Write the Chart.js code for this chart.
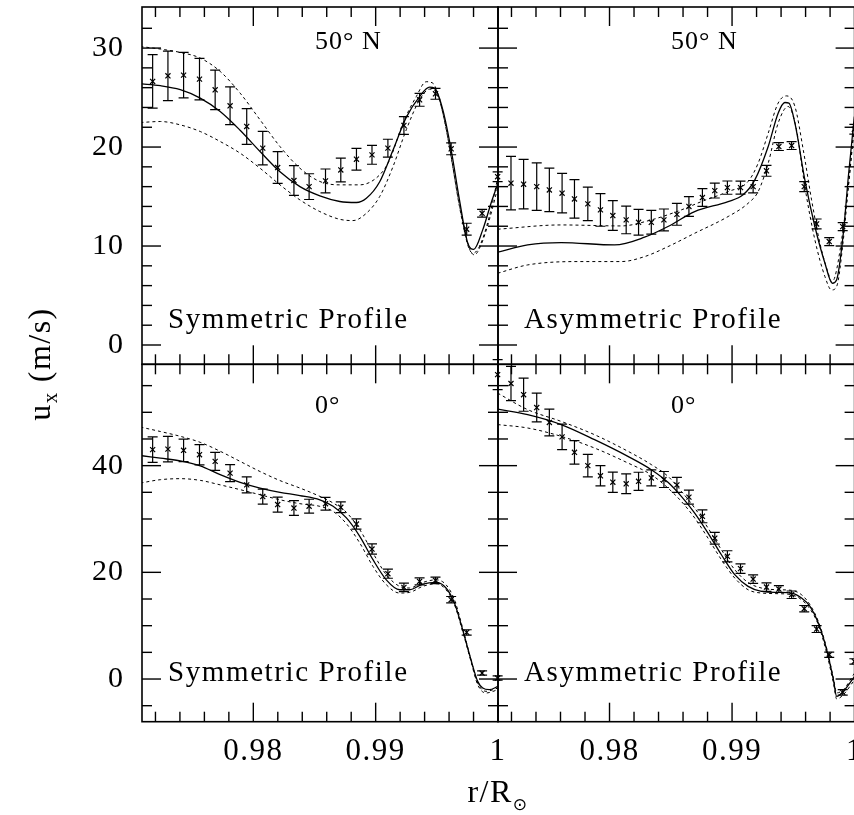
<!DOCTYPE html>
<html><head><meta charset="utf-8">
<script src="https://cdn.jsdelivr.net/npm/chart.js@4.4.1/dist/chart.umd.min.js"></script>
<style>
html,body{margin:0;padding:0;background:#fff;overflow:hidden;}
#wrap{position:relative;width:854px;height:815px;overflow:hidden;background:#fff;}
#wrap canvas{position:absolute;left:0;top:0;}
</style></head><body>
<div id="wrap">
<canvas id="cTL" width="860" height="815"></canvas>
<canvas id="cTR" width="860" height="815"></canvas>
<canvas id="cBL" width="860" height="815"></canvas>
<canvas id="cBR" width="860" height="815"></canvas>
</div>
<script>
// ---------- axis ranges & ticks ----------
const xRange = [0.9709, 1.0];
const topRange = [-1.95, 34.15];
const botRange = [-8, 59];
const xMajorTicks = [0.98, 0.99, 1.0];
const xTickLabels = ['0.98', '0.99', '1'];
const xMinorTicks = [0.972, 0.974, 0.976, 0.978, 0.982, 0.984, 0.986, 0.988, 0.992, 0.994, 0.996, 0.998];
const topMajorTicks = [0, 10, 20, 30];
const topTickLabels = ['0', '10', '20', '30'];
const topMinorTicks = [2, 4, 6, 8, 12, 14, 16, 18, 22, 24, 26, 28, 32];
const botMajorTicks = [0, 20, 40];
const botTickLabels = ['0', '20', '40'];
const botMinorTicks = [-5, 5, 10, 15, 25, 30, 35, 45, 50, 55];

// ---------- measurement radii ----------
const symR = [0.97177, 0.97302, 0.97430, 0.97560, 0.97688, 0.97810, 0.97946, 0.98077, 0.98199, 0.98332, 0.98456, 0.98590, 0.98715, 0.98843, 0.98970, 0.99100, 0.99231, 0.99359, 0.99489, 0.99617, 0.99744, 0.99870, 0.99997];
const asymR = [0.97087, 0.97196, 0.97299, 0.97406, 0.97509, 0.97613, 0.97714, 0.97823, 0.97926, 0.98027, 0.98136, 0.98237, 0.98341, 0.98444, 0.98550, 0.98648, 0.98758, 0.98859, 0.98962, 0.99069, 0.99172, 0.99281, 0.99382, 0.99486, 0.99589, 0.99690, 0.99793, 0.99903, 0.99998];

// ---------- 50 N, symmetric ----------
const tlU = [26.63, 27.2, 27.27, 26.86, 25.78, 24.17, 22.08, 19.89, 17.93, 16.62, 16.0, 16.58, 17.69, 18.77, 19.21, 19.89, 22.18, 24.77, 25.38, 19.82, 11.7, 13.31, 17.0];
const tlErr = [2.7, 2.5, 2.3, 2.1, 2.0, 1.9, 1.8, 1.7, 1.6, 1.5, 1.3, 1.2, 1.2, 1.1, 0.95, 0.9, 0.9, 0.65, 0.55, 0.6, 0.6, 0.4, 0.5];
const tlSolidR = [0.97077, 0.97240, 0.97403, 0.97566, 0.97729, 0.97892, 0.98055, 0.98218, 0.98381, 0.98544, 0.98707, 0.98843, 0.98924, 0.99033, 0.99142, 0.99250, 0.99359, 0.99441, 0.99481, 0.99549, 0.99617, 0.99685, 0.99753, 0.99802, 0.99875, 0.99943, 1.0];
const tlSolidU = [26.39, 26.2, 25.8, 24.95, 23.6, 21.7, 19.55, 17.5, 16.0, 15.07, 14.5, 14.4, 14.83, 16.5, 19.7, 23.0, 25.1, 26.05, 25.95, 23.76, 19.72, 14.66, 10.28, 9.67, 11.63, 14.32, 16.35];
const tlUpperR = [0.97077, 0.97240, 0.97403, 0.97566, 0.97729, 0.97892, 0.98055, 0.98218, 0.98381, 0.98544, 0.98707, 0.98870, 0.99033, 0.99114, 0.99223, 0.99332, 0.99413, 0.99468, 0.99536, 0.99603, 0.99685, 0.99753, 0.99794, 0.99848, 0.99929, 1.0];
const tlUpperU = [30.16, 29.9, 29.56, 28.99, 27.64, 25.45, 22.75, 20.05, 17.86, 16.52, 16.18, 16.18, 17.19, 18.7, 22.41, 25.1, 26.6, 26.45, 24.1, 20.05, 14.0, 10.1, 9.27, 9.94, 12.98, 17.02];
const tlLowerR = [0.97077, 0.97240, 0.97403, 0.97566, 0.97729, 0.97892, 0.98055, 0.98218, 0.98381, 0.98544, 0.98707, 0.98815, 0.98924, 0.99033, 0.99142, 0.99250, 0.99359, 0.99441, 0.99494, 0.99562, 0.99630, 0.99698, 0.99766, 0.99807, 0.99861, 0.99929, 1.0];
const tlLowerU = [22.48, 22.58, 22.24, 21.57, 20.56, 19.38, 17.86, 16.18, 14.66, 13.48, 12.7, 12.57, 13.31, 15.0, 18.03, 21.74, 24.77, 25.85, 25.61, 22.75, 18.03, 13.31, 9.77, 9.1, 10.11, 12.64, 16.01];

// ---------- 50 N, asymmetric ----------
const trR = asymR.slice(1);
const trU = [16.35, 16.25, 16.0, 15.67, 15.34, 14.76, 14.26, 13.65, 13.08, 12.64, 12.4, 12.4, 12.64, 13.2, 14.0, 14.9, 15.6, 15.9, 15.9, 16.0, 17.6, 20.05, 20.15, 16.0, 12.23, 10.45, 11.96, 21.8];
const trErr = [2.7, 2.5, 2.4, 2.2, 2.0, 1.95, 1.7, 1.65, 1.5, 1.4, 1.3, 1.2, 1.1, 1.1, 1.0, 0.9, 0.75, 0.67, 0.65, 0.62, 0.55, 0.4, 0.4, 0.5, 0.5, 0.4, 0.4, 0.5];
const trSolidR = [0.97087, 0.97332, 0.97605, 0.98041, 0.98286, 0.98477, 0.98695, 0.98968, 0.99090, 0.99186, 0.99295, 0.99376, 0.99431, 0.99464, 0.99513, 0.99594, 0.99676, 0.99758, 0.99818, 0.99853, 0.99908, 0.99949, 0.99998];
const trSolidU = [9.37, 10.11, 10.35, 10.11, 10.89, 11.97, 13.48, 14.49, 15.17, 16.68, 20.05, 23.42, 24.5, 24.44, 22.41, 16.68, 11.97, 8.26, 6.24, 6.57, 11.29, 17.02, 23.09];
const trUpperR = [0.97087, 0.97605, 0.98095, 0.98341, 0.98586, 0.98750, 0.98968, 0.99131, 0.99213, 0.99295, 0.99376, 0.99445, 0.99513, 0.99581, 0.99649, 0.99717, 0.99785, 0.99813, 0.99840, 0.99894, 0.99949, 0.99998];
const trUpperU = [11.7, 12.13, 12.03, 12.64, 13.65, 14.49, 15.5, 16.52, 18.37, 21.4, 24.44, 25.17, 24.1, 19.72, 14.66, 10.28, 7.25, 6.4, 6.91, 10.62, 16.01, 22.08];
const trLowerR = [0.97087, 0.97332, 0.97741, 0.98095, 0.98286, 0.98477, 0.98695, 0.98968, 0.99131, 0.99213, 0.99295, 0.99376, 0.99458, 0.99526, 0.99594, 0.99676, 0.99758, 0.99812, 0.99853, 0.99908, 0.99949, 0.99998];
const trLowerU = [7.25, 8.09, 8.43, 8.43, 8.93, 9.94, 11.29, 12.98, 14.32, 15.5, 18.37, 22.41, 24.1, 21.74, 16.01, 10.62, 6.91, 5.56, 5.9, 10.62, 16.01, 22.41];

// ---------- 0 deg, symmetric ----------
const blU = [43.0, 43.1, 42.87, 42.06, 40.8, 38.6, 36.4, 34.2, 32.7, 32.06, 32.4, 32.87, 32.2, 29.06, 24.37, 19.74, 17.18, 18.3, 18.5, 14.87, 8.74, 1.12, 0.18];
const blErr = [2.4, 2.4, 2.1, 1.9, 1.7, 1.6, 1.5, 1.4, 1.4, 1.4, 1.3, 1.2, 1.0, 0.95, 0.95, 0.85, 0.8, 0.65, 0.6, 0.6, 0.5, 0.4, 0.4];
const blSolidR = [0.97077, 0.97240, 0.97403, 0.97566, 0.97729, 0.97892, 0.98055, 0.98218, 0.98381, 0.98544, 0.98652, 0.98761, 0.98870, 0.98978, 0.99087, 0.99196, 0.99277, 0.99385, 0.99494, 0.99575, 0.99644, 0.99711, 0.99779, 0.99834, 0.99875, 0.99929, 1.0];
const blSolidU = [41.9, 41.4, 40.9, 39.96, 38.3, 36.87, 35.8, 35.0, 34.4, 33.6, 32.4, 30.2, 26.75, 22.37, 18.6, 16.74, 16.74, 17.8, 18.1, 17.06, 14.24, 9.24, 3.62, -0.44, -1.69, -2.0, -1.38];
const blDotR = [0.97077, 0.97240, 0.97403, 0.97566, 0.97729, 0.97892, 0.98055, 0.98218, 0.98381, 0.98544, 0.98652, 0.98761, 0.98870, 0.98978, 0.99087, 0.99196, 0.99277, 0.99385, 0.99494, 0.99575, 0.99644, 0.99711, 0.99779, 0.99834, 0.99902, 1.0];
const blUpperU = [47.24, 46.4, 45.5, 44.37, 42.7, 40.8, 38.9, 37.2, 35.8, 34.24, 33.0, 31.24, 28.0, 23.62, 19.56, 17.37, 17.06, 18.1, 18.6, 17.68, 14.87, 9.56, 3.62, -0.75, -2.3, -1.69];
const blLowerU = [36.74, 37.37, 37.56, 37.24, 36.4, 35.5, 34.55, 33.6, 32.87, 32.37, 31.43, 29.12, 25.5, 21.12, 17.68, 16.12, 16.24, 17.37, 17.87, 16.74, 13.93, 8.93, 3.31, -1.06, -2.62, -2.0];

// ---------- 0 deg, asymmetric ----------
const brU = [57.06, 55.4, 53.3, 50.9, 48.1, 45.4, 42.5, 40.0, 38.1, 36.9, 36.6, 37.06, 37.7, 37.4, 36.4, 34.1, 30.5, 26.4, 23.0, 20.7, 18.74, 17.24, 16.87, 15.8, 13.18, 9.37, 4.56, -2.5, 3.3];
const brErr = [2.8, 3.2, 3.1, 2.7, 2.5, 2.4, 2.2, 2.1, 1.9, 1.9, 1.85, 1.7, 1.5, 1.5, 1.4, 1.3, 1.2, 1.1, 1.05, 0.9, 0.8, 0.8, 0.65, 0.7, 0.6, 0.65, 0.5, 0.5, 0.5];
const brCurveR = [0.97087, 0.97332, 0.97605, 0.97878, 0.98150, 0.98341, 0.98477, 0.98586, 0.98695, 0.98804, 0.98913, 0.99022, 0.99131, 0.99240, 0.99376, 0.99486, 0.99567, 0.99636, 0.99704, 0.99772, 0.99827, 0.99854, 0.99908, 1.0];
const brSolidU = [50.6, 49.56, 47.7, 44.87, 41.74, 39.24, 36.87, 34.24, 31.12, 27.37, 23.3, 19.56, 17.37, 16.43, 16.24, 16.12, 15.18, 13.62, 10.49, 5.49, -0.13, -3.26, -2.32, 0.5];
const brUpperU = [53.6, 50.5, 48.3, 45.8, 42.7, 40.2, 38.0, 35.2, 32.06, 28.3, 24.24, 20.5, 18.1, 17.06, 16.74, 16.62, 15.8, 13.93, 10.8, 5.8, 0.18, -2.6, -2.0, 1.12];
const brLowerU = [47.7, 47.06, 45.5, 43.3, 40.5, 38.3, 35.8, 33.3, 30.2, 26.4, 22.37, 18.93, 16.74, 16.12, 16.0, 15.8, 14.87, 13.12, 10.18, 4.87, -0.75, -3.75, -2.94, -0.13];

// ---------- texts ----------
const latTexts = ['50\u00B0 N', '0\u00B0'];
const profileTexts = ['Symmetric Profile', 'Asymmetric Profile'];
const yTitle = ['u', 'x', ' (m/s)'];
const xTitle = ['r/R', '\u2299'];

// ---------- drawing helpers ----------
const SERIF = '"Liberation Serif", "Times New Roman", serif';
function pts(xs, ys) { return xs.map((x, i) => ({x: x, y: ys[i]})); }
function setFont(ctx, size, spacing) {
  ctx.font = size + 'px ' + SERIF;
  try { ctx.letterSpacing = (spacing || 0) + 'px'; } catch (e) {}
}

const decoPlugin = {
  id: 'deco',
  afterDatasetsDraw(chart, args, o) {
    const ctx = chart.ctx, xs = chart.scales.x, ys = chart.scales.y;
    ctx.save();
    ctx.strokeStyle = '#000';
    ctx.lineWidth = 1.2;
    chart.data.datasets.forEach(ds => {
      if (!ds.errorBars) return;
      ds.data.forEach((p, i) => {
        const e = ds.errorBars[i];
        const px = xs.getPixelForValue(p.x);
        const y1 = ys.getPixelForValue(p.y - e), y2 = ys.getPixelForValue(p.y + e);
        ctx.beginPath();
        ctx.moveTo(px, y1); ctx.lineTo(px, y2);
        ctx.moveTo(px - 5, y1); ctx.lineTo(px + 5, y1);
        ctx.moveTo(px - 5, y2); ctx.lineTo(px + 5, y2);
        ctx.stroke();
      });
    });
    ctx.restore();
  },
  afterDraw(chart, args, o) {
    const ctx = chart.ctx, a = chart.chartArea, xs = chart.scales.x, ys = chart.scales.y;
    ctx.save();
    ctx.strokeStyle = '#000';
    ctx.fillStyle = '#000';
    ctx.lineWidth = 1.4;
    const seg = (x1, y1, x2, y2) => { ctx.beginPath(); ctx.moveTo(x1, y1); ctx.lineTo(x2, y2); ctx.stroke(); };
    // x ticks (inward, top & bottom)
    xMinorTicks.forEach(v => { const p = xs.getPixelForValue(v); seg(p, a.bottom, p, a.bottom - 10); seg(p, a.top, p, a.top + 10); });
    xMajorTicks.forEach(v => { const p = xs.getPixelForValue(v); seg(p, a.bottom, p, a.bottom - 19); seg(p, a.top, p, a.top + 19); });
    // y ticks (inward, left & right)
    o.yMinor.forEach(v => { const p = ys.getPixelForValue(v); seg(a.left, p, a.left + 10, p); seg(a.right, p, a.right - 10, p); });
    o.yMajor.forEach(v => { const p = ys.getPixelForValue(v); seg(a.left, p, a.left + 19, p); seg(a.right, p, a.right - 19, p); });
    // frame
    ctx.lineWidth = 1.6;
    ctx.strokeRect(a.left, a.top, a.right - a.left, a.bottom - a.top);
    // y tick labels
    if (o.yLabels) {
      setFont(ctx, 30, 1);
      ctx.textAlign = 'right'; ctx.textBaseline = 'middle';
      o.yMajor.forEach((v, i) => ctx.fillText(o.yLabels[i], a.left - 18, ys.getPixelForValue(v)));
    }
    // x tick labels
    if (o.xLabels) {
      setFont(ctx, 31, 1.5);
      ctx.textAlign = 'center'; ctx.textBaseline = 'alphabetic';
      xMajorTicks.forEach((v, i) => ctx.fillText(xTickLabels[i], xs.getPixelForValue(v), 760));
    }
    // panel annotations
    ctx.textBaseline = 'alphabetic'; ctx.textAlign = 'left';
    setFont(ctx, 26, 1);
    ctx.fillText(o.lat, a.left + 173, a.top + o.latDy);
    setFont(ctx, 29, 1.6);
    ctx.fillText(o.profile, a.left + 26, a.bottom - o.profDy);
    // axis titles
    if (o.titles) {
      // y title, rotated
      ctx.save();
      ctx.translate(50, 364);
      ctx.rotate(-Math.PI / 2);
      setFont(ctx, 32, 1.5);
      const w1 = ctx.measureText(yTitle[0]).width;
      setFont(ctx, 21, 1);
      const w2 = ctx.measureText(yTitle[1]).width;
      setFont(ctx, 32, 1.5);
      const w3 = ctx.measureText(yTitle[2]).width;
      let x0 = -(w1 + w2 + w3) / 2;
      ctx.textAlign = 'left';
      ctx.fillText(yTitle[0], x0, 0);
      setFont(ctx, 21, 1);
      ctx.fillText(yTitle[1], x0 + w1, 7);
      setFont(ctx, 32, 1.5);
      ctx.fillText(yTitle[2], x0 + w1 + w2, 0);
      ctx.restore();
      // x title
      setFont(ctx, 32, 1.5);
      const t1 = ctx.measureText(xTitle[0]).width;
      ctx.font = '17px "DejaVu Sans", sans-serif';
      const t2 = ctx.measureText(xTitle[1]).width;
      const sx = 498 - (t1 + t2) / 2;
      setFont(ctx, 32, 1.5);
      ctx.textAlign = 'left';
      ctx.fillText(xTitle[0], sx, 802);
      ctx.font = '17px "DejaVu Sans", sans-serif';
      ctx.fillText(xTitle[1], sx + t1, 810);
    }
    ctx.restore();
  }
};

function makePanel(id, pad, yRange, pointR, pointU, errs, solid, upper, lower, deco) {
  const lineBase = {showLine: true, pointRadius: 0, borderColor: '#000', fill: false, cubicInterpolationMode: 'monotone'};
  new Chart(document.getElementById(id), {
    type: 'scatter',
    data: {
      datasets: [
        Object.assign({data: pts(upper[0], upper[1]), borderWidth: 1, borderDash: [3, 3]}, lineBase),
        Object.assign({data: pts(lower[0], lower[1]), borderWidth: 1, borderDash: [3, 3]}, lineBase),
        Object.assign({data: pts(solid[0], solid[1]), borderWidth: 1.3}, lineBase),
        {data: pts(pointR, pointU), errorBars: errs, showLine: false, pointStyle: 'crossRot', pointRadius: 3.6,
         borderColor: '#000', borderWidth: 1.2, backgroundColor: '#000', clip: 14}
      ]
    },
    options: {
      responsive: false, animation: false, devicePixelRatio: 1, events: [],
      layout: {padding: pad},
      scales: {
        x: {type: 'linear', display: false, min: xRange[0], max: xRange[1]},
        y: {type: 'linear', display: false, min: yRange[0], max: yRange[1]}
      },
      plugins: {legend: {display: false}, tooltip: {enabled: false}, deco: deco}
    },
    plugins: [decoPlugin]
  });
}

// chart areas: left panel x 142..498, right 498..854.6 ; top y 7..364.3, bottom 364.3..721.7 (canvas 860 wide)
makePanel('cTL', {left: 142, right: 362, top: 7, bottom: 450.7}, topRange, symR, tlU, tlErr,
  [tlSolidR, tlSolidU], [tlUpperR, tlUpperU], [tlLowerR, tlLowerU],
  {yMajor: topMajorTicks, yMinor: topMinorTicks, yLabels: topTickLabels, xLabels: false, lat: latTexts[0], latDy: 42, profile: profileTexts[0], profDy: 36});
makePanel('cTR', {left: 498, right: 5.4, top: 7, bottom: 450.7}, topRange, trR, trU, trErr,
  [trSolidR, trSolidU], [trUpperR, trUpperU], [trLowerR, trLowerU],
  {yMajor: topMajorTicks, yMinor: topMinorTicks, yLabels: null, xLabels: false, lat: latTexts[0], latDy: 42, profile: profileTexts[1], profDy: 36});
makePanel('cBL', {left: 142, right: 362, top: 364.3, bottom: 93.3}, botRange, symR, blU, blErr,
  [blSolidR, blSolidU], [blDotR, blUpperU], [blDotR, blLowerU],
  {yMajor: botMajorTicks, yMinor: botMinorTicks, yLabels: botTickLabels, xLabels: true, lat: latTexts[1], latDy: 49, profile: profileTexts[0], profDy: 41, titles: true});
makePanel('cBR', {left: 498, right: 5.4, top: 364.3, bottom: 93.3}, botRange, asymR, brU, brErr,
  [brCurveR, brSolidU], [brCurveR, brUpperU], [brCurveR, brLowerU],
  {yMajor: botMajorTicks, yMinor: botMinorTicks, yLabels: null, xLabels: true, lat: latTexts[1], latDy: 49, profile: profileTexts[1], profDy: 41});
</script>
</body></html>
